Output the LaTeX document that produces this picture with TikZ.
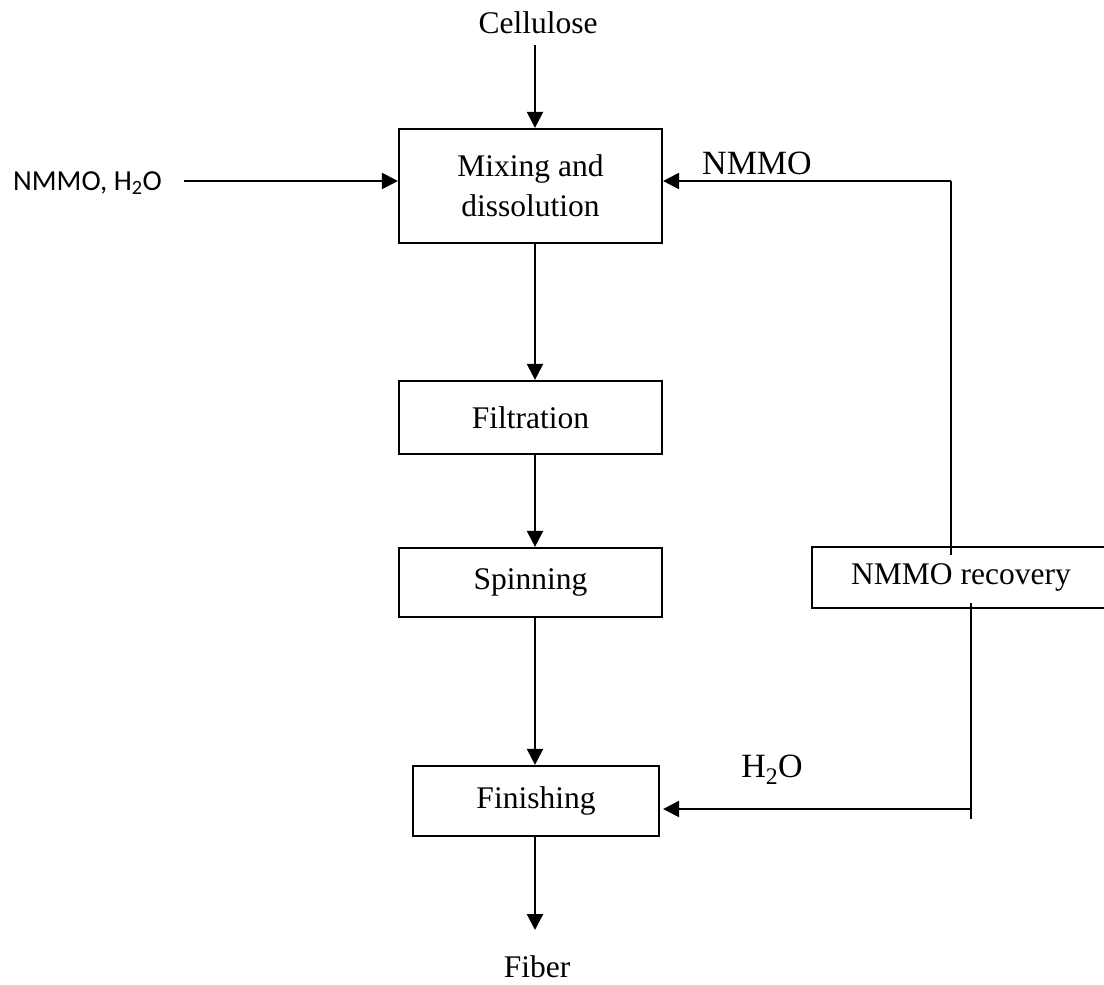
\documentclass[tikz,border=0pt]{standalone}
\usepackage{fontspec}
\setmainfont{Liberation Serif}
\newfontfamily\calib{Carlito}
\usetikzlibrary{arrows.meta}
\tikzset{
  box/.style={draw, line width=2.2pt, minimum width=263pt, align=center, inner sep=0pt, font=\fontsize{31.5}{40}\selectfont},
  lbl/.style={inner sep=0pt, font=\fontsize{31.5}{40}\selectfont},
  flow/.style={line width=2.2pt, -{Triangle[length=16pt,width=16pt]}},
  plain/.style={line width=2.2pt}
}
\begin{document}
\begin{tikzpicture}[x=1pt,y=-1pt]
\clip (0,0) rectangle (1104,985);
\fill[white] (0,0) rectangle (1104,985);

\node[lbl] (cell) at (538,23) {Cellulose};
\node[box, minimum height=114pt] (mix) at (530.5,186) {Mixing and\\dissolution};
\node[box, minimum height=73pt] (filt) at (530.5,417.5) {Filtration};
\node[box, minimum height=69pt] (spin) at (530.5,582.5) {Spinning};
\node[box, minimum width=246pt, minimum height=70pt] (fin) at (536,801) {Finishing};
\node[box, minimum width=298pt, minimum height=61pt] (rec) at (961,577.5) {NMMO recovery};
\node[lbl] (fiber) at (537,967) {Fiber};
\node[inner sep=0pt, anchor=west, font=\calib\fontsize{29}{34}\selectfont] (feed) at (13,183) {NMMO, H\textsubscript{2}O};
\node[lbl, font=\fontsize{34}{40}\selectfont] (nmmo) at (757,163) {NMMO};
\node[lbl, font=\fontsize{34}{40}\selectfont] (water) at (772,770) {H\textsubscript{2}O};

\coordinate (c1) at (535,45);
\coordinate (f1) at (184,181);
\coordinate (r1) at (951,555);
\coordinate (r2) at (951,181);
\coordinate (w1) at (971,603);
\coordinate (w2) at (971,809);
\coordinate (w3) at (971,819);
\coordinate (fb) at (535,930);

\draw[flow] (c1) -- (c1 |- mix.north);
\draw[flow] (f1) -- (f1 -| mix.west);
\draw[flow] (c1 |- mix.south) -- (c1 |- filt.north);
\draw[flow] (c1 |- filt.south) -- (c1 |- spin.north);
\draw[flow] (c1 |- spin.south) -- (c1 |- fin.north);
\draw[flow] (c1 |- fin.south) -- (fb);
\draw[plain] (r1) -- (r2);
\draw[flow] (r2) -- (r2 -| mix.east);
\draw[plain] (w1) -- (w3);
\draw[flow] (w2) -- ([xshift=3pt]w2 -| fin.east);
\end{tikzpicture}
\end{document}
